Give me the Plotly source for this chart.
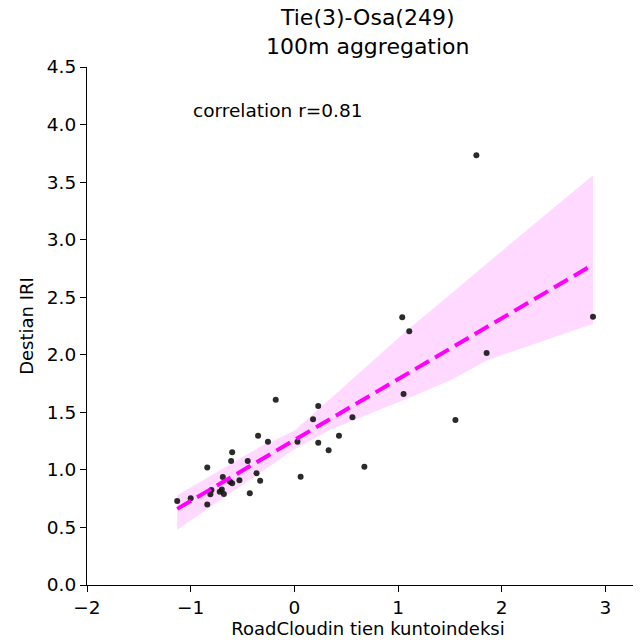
import numpy as np
import plotly.graph_objects as go

# RoadCloud condition index vs IRI, 100m aggregation
road_index = [1.755, 2.88, 1.04, 1.108, 1.854, 1.053, 1.553,
              -0.18, 0.23, 0.18, 0.56, -0.35, -0.255, 0.03, 0.23, 0.43, 0.33,
              -0.60, -0.61, -0.45, -0.84, 0.675, -0.365, -0.33, 0.06, -0.69,
              -0.62, -0.60, -0.53, -0.80, -0.70, -0.72, -0.68, -0.81, -0.43,
              -1.00, -1.13, -0.84]
iri = [3.733, 2.33, 2.326, 2.204, 2.016, 1.66, 1.434,
       1.61, 1.555, 1.44, 1.457, 1.297, 1.245, 1.245, 1.236, 1.297, 1.17,
       1.153, 1.077, 1.077, 1.02, 1.028, 0.97, 0.906, 0.94, 0.938,
       0.898, 0.885, 0.91, 0.825, 0.83, 0.81, 0.79, 0.788, 0.797,
       0.753, 0.73, 0.70]

# 95% confidence band of the fit
ci_x = [-1.13, -0.88, -0.33, 0.0, 0.35, 1.09, 1.51, 1.865, 2.88]
ci_upper = [0.78, 0.91, 1.20, 1.34, 1.62, 2.215, 2.53, 2.80, 3.56]
ci_lower = [0.48, 0.64, 0.975, 1.18, 1.35, 1.62, 1.78, 1.955, 2.27]

x_ticks = [-2, -1, 0, 1, 2, 3]
y_ticks = [0.0, 0.5, 1.0, 1.5, 2.0, 2.5, 3.0, 3.5, 4.0, 4.5]

x = np.array(road_index)
y = np.array(iri)
slope, intercept = np.polyfit(x, y, 1)
grid = np.linspace(x.min(), x.max(), 100)
fit = intercept + slope * grid

fig = go.Figure()
fig.add_trace(go.Scatter(x=ci_x + ci_x[::-1], y=ci_upper + ci_lower[::-1],
                         mode="lines", fill="toself", fillcolor="rgba(255,0,255,0.15)",
                         line=dict(width=0), hoverinfo="skip", showlegend=False))
fig.add_trace(go.Scatter(x=x, y=y, mode="markers",
                         marker=dict(color="rgba(20,20,20,0.9)", size=6),
                         showlegend=False))
fig.add_trace(go.Scatter(x=grid, y=fit, mode="lines",
                         line=dict(color="magenta", width=4, dash="16px,7px"),
                         showlegend=False))

fig.add_annotation(x=-1.0, y=4.12, xanchor="left", text="correlation r=0.81",
                   showarrow=False, font=dict(size=18.5))
fig.add_annotation(x=0.5, y=1, xref="paper", yref="paper", xanchor="center",
                   yanchor="bottom", yshift=6, showarrow=False,
                   text="Tie(3)-Osa(249)<br>100m aggregation", font=dict(size=22))

# page body has an 8px margin, so the figure sits 8px right/down
fig.update_layout(
    width=641, height=644,
    margin=dict(l=79, r=0, t=59, b=67),
    plot_bgcolor="white", paper_bgcolor="white",
    font=dict(family="DejaVu Sans", size=18.5, color="black"),
)
fig.update_xaxes(range=[-2, 3.42], tickvals=x_ticks, showgrid=False, zeroline=False,
                 showline=True, linecolor="black", linewidth=1.2, automargin=False,
                 ticks="outside", ticklen=6, tickcolor="black",
                 title=dict(text="RoadCloudin tien kuntoindeksi", font=dict(size=18), standoff=4))
fig.update_yaxes(range=[0, 4.5], tickvals=y_ticks, tickformat=".1f", showgrid=False,
                 zeroline=False, showline=True, linecolor="black", linewidth=1.2,
                 automargin=False, ticks="outside", ticklen=6, tickcolor="black",
                 title=dict(text="Destian IRI", font=dict(size=18), standoff=8))

fig.write_html("out.html")
